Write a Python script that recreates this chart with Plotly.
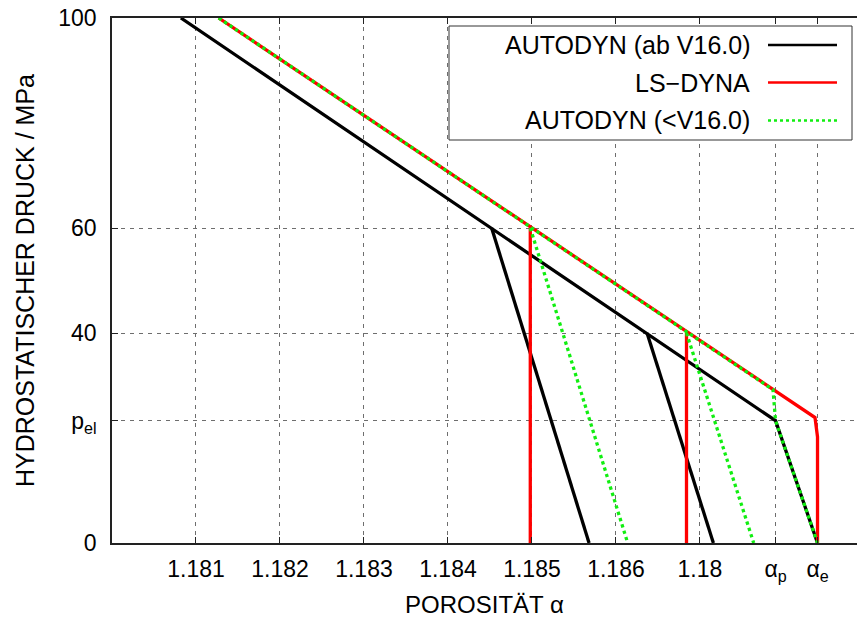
import plotly.graph_objects as go

# ---------------- data ----------------
alpha_p = 1.18790
alpha_e = 1.18840
p_el = 23.3

x_tickvals = [1.181, 1.182, 1.183, 1.184, 1.185, 1.186, 1.187, alpha_p, alpha_e]
x_ticktext = ["1.181", "1.182", "1.183", "1.184", "1.185", "1.186", "1.18",
              "α<sub>p</sub>", "α<sub>e</sub>"]
y_tickvals = [0, p_el, 40, 60, 100]
y_ticktext = ["0", "p<sub>el</sub>", "40", "60", "100"]

# AUTODYN (ab V16.0)
new_main_x = [1.18082, alpha_p, alpha_e]
new_main_y = [100, p_el, 0]
new_un1_x = [1.18452, 1.18568]
new_un1_y = [60, 0]
new_un2_x = [1.18637, 1.18716]
new_un2_y = [40, 0]

# LS-DYNA
ls_main_x = [1.18127, 1.18837, alpha_e, alpha_e]
ls_main_y = [100, 23.9, 20.2, 0]
ls_un1_x = [1.18498, 1.18498]
ls_un1_y = [60, 0]
ls_un2_x = [1.18684, 1.18684]
ls_un2_y = [40, 0]

# AUTODYN (<V16.0)
old_main_x = [1.18127, 1.18787, alpha_p, alpha_e]
old_main_y = [100, 29.2, p_el, 0]
old_un1_x = [1.18498, 1.18614]
old_un1_y = [60, 0]
old_un2_x = [1.18684, 1.18764]
old_un2_y = [40, 0]

labels = ["AUTODYN (ab V16.0)", "LS\u2212DYNA", "AUTODYN (<V16.0)"]
colors = ["#000000", "#ff0000", "#11ee11"]


def join(*segs):
    out = []
    for i, s in enumerate(segs):
        if i:
            out.append(None)
        out.extend(s)
    return out


FONT = "Liberation Sans, Arial, Helvetica, sans-serif"
W, H = 857, 620
ML, MR, MT, MB = 112, 0, 18, 77
PW, PH = W - ML - MR, H - MT - MB


def px(x):
    return (x - ML) / PW


def py(y):
    return (H - MB - y) / PH


fig = go.Figure()
fig.add_trace(go.Scatter(
    x=join(new_main_x, new_un1_x, new_un2_x),
    y=join(new_main_y, new_un1_y, new_un2_y),
    mode="lines", name=labels[0], line=dict(color=colors[0], width=3.3),
    showlegend=False))
fig.add_trace(go.Scatter(
    x=join(ls_main_x, ls_un1_x, ls_un2_x),
    y=join(ls_main_y, ls_un1_y, ls_un2_y),
    mode="lines", name=labels[1], line=dict(color=colors[1], width=3.3),
    showlegend=False))
fig.add_trace(go.Scatter(
    x=join(old_main_x, old_un1_x, old_un2_x),
    y=join(old_main_y, old_un1_y, old_un2_y),
    mode="lines", name=labels[2],
    line=dict(color=colors[2], width=3.3, dash="dot"),
    showlegend=False))

# ------------- gnuplot-style legend (text left, sample right) -------------
shapes = [dict(type="rect", xref="paper", yref="paper",
               x0=px(449), x1=px(852), y0=py(140), y1=py(26),
               line=dict(color="#333333", width=1), fillcolor="white",
               layer="above")]
annotations = []
rows = [45, 82.5, 120.5]
for i, (lab, col) in enumerate(zip(labels, colors)):
    shapes.append(dict(type="line", xref="paper", yref="paper",
                       x0=px(768), x1=px(837), y0=py(rows[i]), y1=py(rows[i]),
                       line=dict(color=col, width=2.6 if i < 2 else 2.4,
                                 dash="solid" if i < 2 else "dot"),
                       layer="above"))
    annotations.append(dict(xref="paper", yref="paper", x=px(752), y=py(rows[i]),
                            text=lab, showarrow=False, xanchor="right",
                            yanchor="middle",
                            font=dict(family=FONT, size=25, color="black")))

grid = dict(showgrid=True, gridcolor="#6e6e6e", gridwidth=1, griddash="4px,5px")

fig.update_layout(
    width=W, height=H,
    margin=dict(l=ML, r=MR, t=MT, b=MB, pad=0),
    paper_bgcolor="white", plot_bgcolor="white",
    font=dict(family=FONT, size=23, color="black"),
    showlegend=False,
    shapes=shapes, annotations=annotations,
    xaxis=dict(range=[1.180, 1.18887], tickmode="array",
               tickvals=x_tickvals, ticktext=x_ticktext,
               ticks="inside", ticklen=6, tickcolor="#222", tickwidth=1,
               showline=True, linecolor="#222", linewidth=1.6, mirror="ticks",
               zeroline=False, ticklabelstandoff=5,
               tickfont=dict(family=FONT, size=23),
               title=dict(text="POROSITÄT α", standoff=12,
                          font=dict(family=FONT, size=24)),
               automargin=False, **grid),
    yaxis=dict(range=[0, 100], tickmode="array",
               tickvals=y_tickvals, ticktext=y_ticktext,
               ticks="inside", ticklen=6, tickcolor="#222", tickwidth=1,
               showline=True, linecolor="#222", linewidth=1.6, mirror=False,
               zeroline=False, ticklabelstandoff=9,
               tickfont=dict(family=FONT, size=23),
               title=dict(text="HYDROSTATISCHER DRUCK / MPa", standoff=16,
                          font=dict(family=FONT, size=25)),
               automargin=False, **grid),
)

fig.write_html("out.html")
